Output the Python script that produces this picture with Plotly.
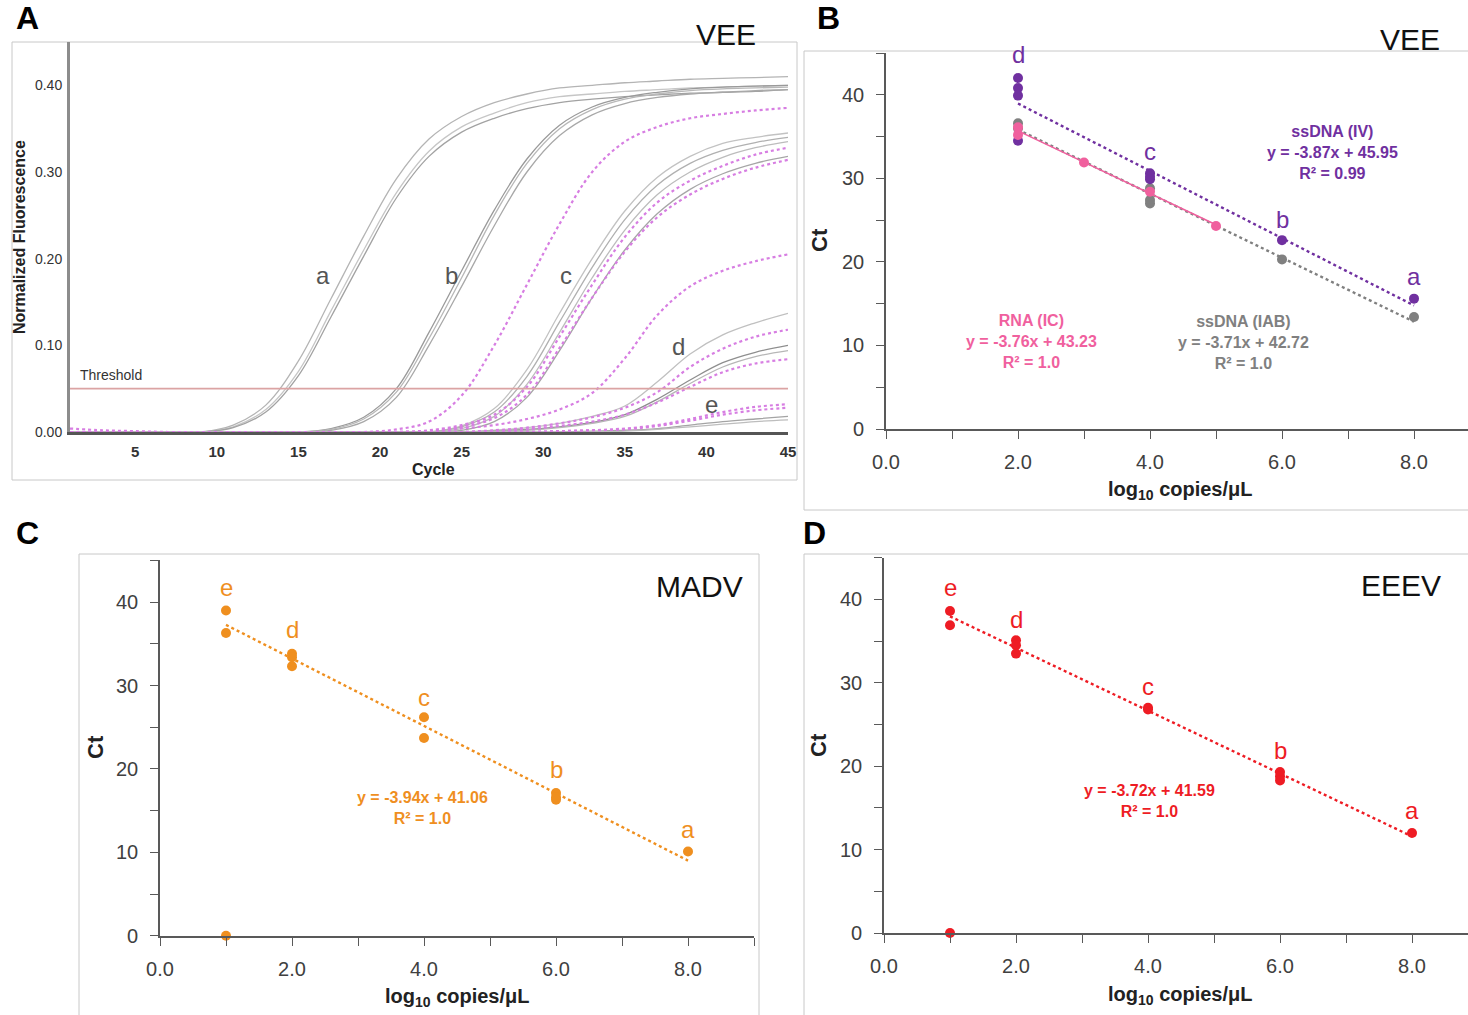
import numpy as np
import plotly.graph_objects as go

W, H = 1468, 1015
FONT = "Liberation Sans, Arial, sans-serif"

# ---------------- Panel A data (normalized fluorescence vs cycle) ----------------
CYCLES = [1, 3, 5, 7, 9, 11, 13, 15, 17, 19, 21, 23, 25, 27, 29, 31, 33, 35, 37, 39, 41, 43, 45]

gray_a1 = [0, 0, 0, 0, 0, 0.008, 0.031, 0.082, 0.154, 0.226, 0.292, 0.338, 0.364, 0.380, 0.390, 0.397, 0.400, 0.403, 0.405, 0.407, 0.408, 0.409, 0.410]
gray_a2 = [0, 0, 0, 0, 0, 0.006, 0.026, 0.070, 0.140, 0.210, 0.276, 0.324, 0.352, 0.368, 0.380, 0.387, 0.390, 0.393, 0.395, 0.397, 0.398, 0.399, 0.400]
gray_a3 = [0, 0, 0, 0, 0, 0.005, 0.023, 0.065, 0.133, 0.203, 0.270, 0.318, 0.346, 0.362, 0.373, 0.380, 0.384, 0.387, 0.389, 0.391, 0.392, 0.393, 0.395]
gray_b1 = [0, 0, 0, 0, 0, 0, 0, 0, 0.004, 0.017, 0.050, 0.115, 0.186, 0.256, 0.315, 0.354, 0.375, 0.386, 0.392, 0.396, 0.398, 0.399, 0.400]
gray_b2 = [0, 0, 0, 0, 0, 0, 0, 0, 0.003, 0.015, 0.046, 0.108, 0.178, 0.250, 0.310, 0.350, 0.372, 0.384, 0.390, 0.394, 0.396, 0.397, 0.398]
gray_b3 = [0, 0, 0, 0, 0, 0, 0, 0, 0.002, 0.012, 0.040, 0.100, 0.168, 0.238, 0.300, 0.342, 0.366, 0.379, 0.386, 0.390, 0.392, 0.394, 0.395]
gray_c1 = [0, 0, 0, 0, 0, 0, 0, 0, 0, 0, 0, 0, 0.007, 0.027, 0.072, 0.137, 0.200, 0.255, 0.294, 0.318, 0.333, 0.340, 0.345]
gray_c2 = [0, 0, 0, 0, 0, 0, 0, 0, 0, 0, 0, 0, 0.006, 0.023, 0.064, 0.127, 0.190, 0.245, 0.285, 0.310, 0.325, 0.334, 0.340]
gray_c3 = [0, 0, 0, 0, 0, 0, 0, 0, 0, 0, 0, 0, 0.004, 0.018, 0.055, 0.115, 0.178, 0.233, 0.274, 0.300, 0.317, 0.328, 0.335]
gray_c4 = [0, 0, 0, 0, 0, 0, 0, 0, 0, 0, 0, 0, 0.002, 0.012, 0.040, 0.094, 0.155, 0.210, 0.252, 0.280, 0.298, 0.310, 0.318]
gray_d1 = [0, 0, 0, 0, 0, 0, 0, 0, 0, 0, 0, 0, 0, 0.002, 0.005, 0.010, 0.018, 0.030, 0.058, 0.090, 0.112, 0.126, 0.137]
gray_d2 = [0, 0, 0, 0, 0, 0, 0, 0, 0, 0, 0, 0, 0, 0.001, 0.003, 0.006, 0.011, 0.020, 0.038, 0.060, 0.080, 0.092, 0.100]
gray_d3 = [0, 0, 0, 0, 0, 0, 0, 0, 0, 0, 0, 0, 0, 0.001, 0.002, 0.005, 0.010, 0.018, 0.035, 0.056, 0.075, 0.087, 0.094]
gray_e1 = [0, 0, 0, 0, 0, 0, 0, 0, 0, 0, 0, 0, 0, 0, 0, 0, 0.001, 0.002, 0.004, 0.008, 0.012, 0.015, 0.018]
gray_e2 = [0, 0, 0, 0, 0, 0, 0, 0, 0, 0, 0, 0, 0, 0, 0, 0, 0, 0.001, 0.003, 0.006, 0.009, 0.012, 0.014]

pink_b = [0.004, 0.002, 0.001, 0, 0, 0, 0, 0, 0, 0, 0.003, 0.012, 0.042, 0.100, 0.170, 0.240, 0.300, 0.335, 0.352, 0.362, 0.367, 0.371, 0.374]
pink_c1 = [0, 0, 0, 0, 0, 0, 0, 0, 0, 0, 0, 0.002, 0.008, 0.020, 0.052, 0.110, 0.170, 0.225, 0.265, 0.290, 0.307, 0.320, 0.328]
pink_c2 = [0, 0, 0, 0, 0, 0, 0, 0, 0, 0, 0, 0.001, 0.006, 0.016, 0.043, 0.097, 0.155, 0.208, 0.248, 0.274, 0.292, 0.305, 0.314]
pink_m = [0, 0, 0, 0, 0, 0, 0, 0, 0, 0, 0, 0, 0.004, 0.008, 0.015, 0.026, 0.045, 0.085, 0.135, 0.168, 0.186, 0.197, 0.205]
pink_d1 = [0, 0, 0, 0, 0, 0, 0, 0, 0, 0, 0, 0, 0, 0.002, 0.005, 0.010, 0.017, 0.028, 0.046, 0.075, 0.096, 0.110, 0.118]
pink_d2 = [0, 0, 0, 0, 0, 0, 0, 0, 0, 0, 0, 0, 0, 0.001, 0.003, 0.007, 0.012, 0.020, 0.034, 0.052, 0.069, 0.079, 0.084]
pink_e1 = [0, 0, 0, 0, 0, 0, 0, 0, 0, 0, 0, 0, 0, 0, 0, 0.001, 0.002, 0.004, 0.008, 0.015, 0.023, 0.029, 0.032]
pink_e2 = [0, 0, 0, 0, 0, 0, 0, 0, 0, 0, 0, 0, 0, 0, 0, 0.001, 0.002, 0.003, 0.007, 0.013, 0.020, 0.025, 0.028]

GRAY_CURVES = [gray_a1, gray_a2, gray_a3, gray_b1, gray_b2, gray_b3, gray_c1, gray_c2, gray_c3, gray_c4,
               gray_d1, gray_d2, gray_d3, gray_e1, gray_e2]
GRAY_COLORS = ["#b4b4b4", "#c6c6c6", "#a2a2a2", "#9a9a9a", "#b8b8b8", "#a8a8a8", "#c2c2c2", "#b0b0b0",
               "#bcbcbc", "#a6a6a6", "#c0c0c0", "#8e8e8e", "#b6b6b6", "#a4a4a4", "#bdbdbd"]
PINK_CURVES = [pink_b, pink_c1, pink_c2, pink_m, pink_d1, pink_d2, pink_e1, pink_e2]
THRESHOLD = 0.05
A_XTICKS = [5, 10, 15, 20, 25, 30, 35, 40, 45]
A_YTICKS = [0.0, 0.1, 0.2, 0.3, 0.4]
A_YTEXT = ["0.00", "0.10", "0.20", "0.30", "0.40"]
A_LABELS = ["a", "b", "c", "d", "e"]
A_LABEL_X = [16.5, 24.4, 31.4, 38.3, 40.3]
A_LABEL_Y = [0.181, 0.181, 0.181, 0.099, 0.032]

# ---------------- Panel B data (VEE standard curves) ----------------
B_IV_x = [2, 2, 2, 2, 4, 4, 4, 6, 8]
B_IV_y = [42.0, 40.8, 39.9, 34.5, 30.6, 30.2, 29.9, 22.6, 15.6]
B_IAB_x = [2, 2, 4, 4, 4, 6, 8]
B_IAB_y = [36.6, 36.0, 28.8, 27.4, 27.0, 20.3, 13.4]
B_IC_x = [2, 2, 3, 4, 5]
B_IC_y = [36.1, 35.2, 31.9, 28.4, 24.3]
B_LABELS = ["d", "c", "b", "a"]
B_LABEL_X = [2, 4, 6, 8]
B_LABEL_Y = [44.8, 33.2, 25.1, 18.2]

# ---------------- Panel C data (MADV) ----------------
C_x = [1, 1, 1, 2, 2, 2, 4, 4, 6, 6, 6, 8]
C_y = [39.0, 36.3, 0.0, 33.8, 33.4, 32.3, 26.2, 23.7, 17.1, 16.6, 16.3, 10.1]
C_LABELS = ["e", "d", "c", "b", "a"]
C_LABEL_X = [1, 2, 4, 6, 8]
C_LABEL_Y = [41.8, 36.7, 28.6, 19.9, 12.7]

# ---------------- Panel D data (EEEV) ----------------
D_x = [1, 1, 1, 2, 2, 2, 4, 4, 6, 6, 6, 8]
D_y = [38.6, 36.9, 0.0, 35.1, 34.5, 33.5, 27.0, 26.8, 19.3, 18.8, 18.3, 12.0]
D_LABELS = ["e", "d", "c", "b", "a"]
D_LABEL_X = [1, 2, 4, 6, 8]
D_LABEL_Y = [41.4, 37.6, 29.6, 21.9, 14.7]

X_MAJOR = [0, 2, 4, 6, 8]
X_MAJOR_TEXT = ["0.0", "2.0", "4.0", "6.0", "8.0"]
X_MINOR = [1, 3, 5, 7, 9]
Y_MAJOR = [0, 10, 20, 30, 40]
Y_MINOR = [5, 15, 25, 35, 45]

PURPLE, GRAY, PINK, ORANGE, RED = "#7030a0", "#808080", "#f0609e", "#ef8f1f", "#ee1c24"


def P(x):
    return x / W


def Q(y):
    return 1 - y / H


fig = go.Figure()

# Panel A curves
for ys, col in zip(GRAY_CURVES, GRAY_COLORS):
    fig.add_trace(go.Scatter(x=CYCLES, y=ys, mode="lines", xaxis="x", yaxis="y",
                             line=dict(color=col, width=1.3, shape="spline", smoothing=1.0),
                             showlegend=False, hoverinfo="skip"))
for ys in PINK_CURVES:
    fig.add_trace(go.Scatter(x=CYCLES, y=ys, mode="lines", xaxis="x", yaxis="y",
                             line=dict(color="#d77ee2", width=2.2, dash="dot", shape="spline", smoothing=1.0),
                             showlegend=False, hoverinfo="skip"))
fig.add_trace(go.Scatter(x=[1, 45], y=[THRESHOLD, THRESHOLD], mode="lines", xaxis="x", yaxis="y",
                         line=dict(color="#dba3a3", width=1.6), showlegend=False, hoverinfo="skip"))


def trend(xs, ys, xa, ya, color, dash="dot", width=2.4):
    xs = np.array(xs, float)
    ys = np.array(ys, float)
    m = ys > 0
    k, b = np.polyfit(xs[m], ys[m], 1)
    x0, x1 = xs[m].min(), xs[m].max()
    fig.add_trace(go.Scatter(x=[x0, x1], y=[k * x0 + b, k * x1 + b], mode="lines", xaxis=xa, yaxis=ya,
                             line=dict(color=color, width=width, dash=dash),
                             showlegend=False, hoverinfo="skip"))


def points(xs, ys, xa, ya, color):
    fig.add_trace(go.Scatter(x=xs, y=ys, mode="markers", xaxis=xa, yaxis=ya, cliponaxis=False,
                             marker=dict(color=color, size=10, line=dict(width=0)),
                             showlegend=False, hoverinfo="skip"))


# Panel B
trend(B_IAB_x, B_IAB_y, "x2", "y2", GRAY)
trend(B_IV_x, B_IV_y, "x2", "y2", PURPLE)
points(B_IAB_x, B_IAB_y, "x2", "y2", GRAY)
points(B_IV_x, B_IV_y, "x2", "y2", PURPLE)
trend(B_IC_x, B_IC_y, "x2", "y2", PINK, dash="solid", width=1.6)
points(B_IC_x, B_IC_y, "x2", "y2", PINK)

# Panel C
trend(C_x, C_y, "x3", "y3", ORANGE)
points(C_x, C_y, "x3", "y3", ORANGE)

# Panel D
trend(D_x, D_y, "x4", "y4", RED)
points(D_x, D_y, "x4", "y4", RED)

ann = []


def A(text, x, y, xref="paper", yref="paper", size=16, color="#222", bold=False,
      xanchor="center", yanchor="middle", angle=0):
    ann.append(dict(text=text, x=x, y=y, xref=xref, yref=yref, showarrow=False,
                    xanchor=xanchor, yanchor=yanchor, textangle=angle,
                    font=dict(family=FONT, size=size, color=color, weight="bold" if bold else "normal")))


# Panel letters and titles
A("A", P(27), Q(18), size=32, color="#000", bold=True)
A("B", P(828), Q(18), size=32, color="#000", bold=True)
A("C", P(27), Q(533), size=32, color="#000", bold=True)
A("D", P(815), Q(533), size=32, color="#000", bold=True)
A("VEE", P(726), Q(35), size=30, color="#111")
A("VEE", P(1410), Q(39), size=30, color="#111")
A("MADV", P(699), Q(586), size=30, color="#111")
A("EEEV", P(1401), Q(585), size=30, color="#111")

# Panel A texts
A("Normalized Fluorescence", P(20), Q(237), size=16, color="#222", bold=True, angle=-90)
A("Cycle", P(433), Q(469), size=16, color="#222", bold=True)
A("Threshold", 1.5, 0.0657, xref="x", yref="y", size=14, color="#333", xanchor="left")
for t, x, y in zip(A_LABELS, A_LABEL_X, A_LABEL_Y):
    A(t, x, y, xref="x", yref="y", size=24, color="#555")

# Panel B texts
A("Ct", P(820), Q(240), size=22, color="#222", bold=True, angle=-90)
A("log<sub>10</sub> copies/μL", P(1180), Q(490), size=20, color="#222", bold=True)
for t, x, y in zip(B_LABELS, B_LABEL_X, B_LABEL_Y):
    A(t, x, y, xref="x2", yref="y2", size=24, color=PURPLE)
A("ssDNA (IV)<br>y = -3.87x + 45.95<br>R² = 0.99", 6.77, 33.1, xref="x2", yref="y2", size=16, color=PURPLE, bold=True)
A("RNA (IC)<br>y = -3.76x + 43.23<br>R² = 1.0", 2.2, 10.5, xref="x2", yref="y2", size=16, color=PINK, bold=True)
A("ssDNA (IAB)<br>y = -3.71x + 42.72<br>R² = 1.0", 5.41, 10.4, xref="x2", yref="y2", size=16, color=GRAY, bold=True)

# Panel C texts
A("Ct", P(95), Q(747), size=22, color="#222", bold=True, angle=-90)
A("log<sub>10</sub> copies/μL", P(457), Q(997), size=20, color="#222", bold=True)
for t, x, y in zip(C_LABELS, C_LABEL_X, C_LABEL_Y):
    A(t, x, y, xref="x3", yref="y3", size=24, color=ORANGE)
A("y = -3.94x + 41.06<br>R² = 1.0", 3.98, 15.3, xref="x3", yref="y3", size=16, color=ORANGE, bold=True)

# Panel D texts
A("Ct", P(818), Q(745), size=22, color="#222", bold=True, angle=-90)
A("log<sub>10</sub> copies/μL", P(1180), Q(995), size=20, color="#222", bold=True)
for t, x, y in zip(D_LABELS, D_LABEL_X, D_LABEL_Y):
    A(t, x, y, xref="x4", yref="y4", size=24, color=RED)
A("y = -3.72x + 41.59<br>R² = 1.0", 4.03, 15.8, xref="x4", yref="y4", size=16, color=RED, bold=True)

# Panel frames
shapes = []
for x0, y0, x1, y1 in [(12, 42, 797, 480), (804, 51, 1470, 510), (79, 554, 759, 1030), (804, 554, 1470, 1030)]:
    shapes.append(dict(type="rect", xref="paper", yref="paper", x0=P(x0), x1=P(x1), y0=Q(y1), y1=Q(y0),
                       line=dict(color="#c8c8c8", width=1), fillcolor="rgba(0,0,0,0)", layer="below"))

AX_COL = "#595959"
TICKFONT = dict(family=FONT, size=20, color="#404040")


def ct_xaxis(domain, rng, anchor):
    return dict(domain=domain, range=rng, anchor=anchor, showline=True, linecolor=AX_COL, linewidth=1.6,
                tickmode="array", tickvals=X_MAJOR, ticktext=X_MAJOR_TEXT, ticks="outside", ticklen=8,
                tickcolor=AX_COL, tickwidth=1.4, tickfont=TICKFONT, ticklabelstandoff=6,
                minor=dict(tickmode="array", tickvals=X_MINOR, ticks="outside", ticklen=8,
                           tickcolor=AX_COL, tickwidth=1.4, showgrid=False),
                showgrid=False, zeroline=False, fixedrange=True)


def ct_yaxis(domain, anchor):
    return dict(domain=domain, range=[0, 45], anchor=anchor, showline=True, linecolor=AX_COL, linewidth=1.6,
                tickmode="array", tickvals=Y_MAJOR, ticktext=[str(v) for v in Y_MAJOR], ticks="outside", ticklen=8,
                tickcolor=AX_COL, tickwidth=1.4, tickfont=TICKFONT, ticklabelstandoff=8,
                minor=dict(tickmode="array", tickvals=Y_MINOR, ticks="outside", ticklen=8,
                           tickcolor=AX_COL, tickwidth=1.4, showgrid=False),
                showgrid=False, zeroline=False, fixedrange=True)


fig.update_layout(
    autosize=True, margin=dict(l=0, r=0, t=0, b=0, autoexpand=False),
    paper_bgcolor="white", plot_bgcolor="white", showlegend=False,
    font=dict(family=FONT),
    xaxis=dict(domain=[P(70), P(788)], range=[1, 45], anchor="y", showline=True, linecolor="#555",
               linewidth=2.5, tickmode="array", tickvals=A_XTICKS, ticks="",
               tickfont=dict(family=FONT, size=15, color="#333", weight="bold"), ticklabelstandoff=4,
               showgrid=False, zeroline=False),
    yaxis=dict(domain=[Q(432), Q(42)], range=[0, 0.45], anchor="x", showline=True, linecolor="#8c8c8c",
               linewidth=3, tickmode="array", tickvals=A_YTICKS, ticktext=A_YTEXT, ticks="",
               tickfont=dict(family=FONT, size=14, color="#333"), ticklabelstandoff=2,
               showgrid=False, zeroline=False),
    xaxis2=ct_xaxis([P(886), 1.0], [0, 8.818], "y2"),
    yaxis2=ct_yaxis([Q(429), Q(53)], "x2"),
    xaxis3=ct_xaxis([P(160), P(754)], [0, 9], "y3"),
    yaxis3=ct_yaxis([Q(935.7), Q(560.4)], "x3"),
    xaxis4=ct_xaxis([P(884), 1.0], [0, 8.848], "y4"),
    yaxis4=ct_yaxis([Q(933), Q(557.7)], "x4"),
    annotations=ann, shapes=shapes,
)

fig.write_html(
    "out.html",
    config={"displayModeBar": False, "responsive": True},
    default_width="100vw",
    default_height="100vh",
    post_script=("document.documentElement.style.margin='0';document.documentElement.style.height='100%';"
                 "document.documentElement.style.overflow='hidden';"
                 "document.body.style.margin='0';document.body.style.padding='0';"
                 "document.body.style.height='100%';document.body.style.overflow='hidden';"
                 "var gd=document.getElementById('{plot_id}');Plotly.Plots.resize(gd);"),
)
